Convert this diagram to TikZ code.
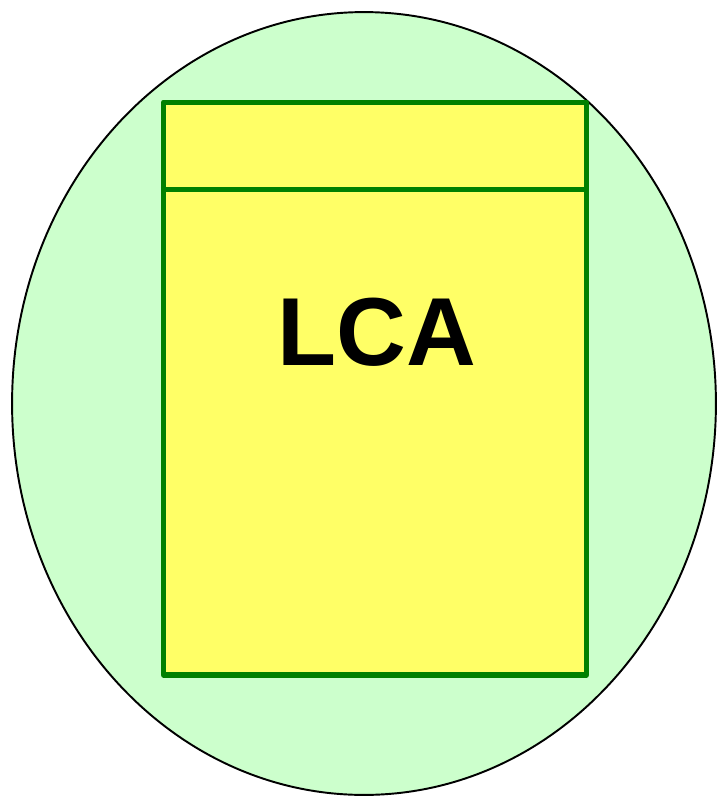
\documentclass[tikz,border=0pt]{standalone}
\usepackage{fontspec}
\setmainfont{Liberation Sans}
\usetikzlibrary{positioning, shapes.geometric}
\definecolor{cellgreen}{HTML}{CCFFCC}
\definecolor{boxyellow}{HTML}{FFFF66}
\definecolor{framegreen}{HTML}{008000}
\tikzset{
    cell/.style={ellipse, draw=black, line width=1.1pt, fill=cellgreen, inner sep=0pt},
    lcabox/.style={rectangle, draw=framegreen, line width=2.9pt, fill=boxyellow, inner sep=0pt, line join=round},
    divider/.style={draw=framegreen, line width=2.9pt},
    title/.style={font=\fontsize{55}{60}\selectfont\bfseries, inner sep=0pt}
}
\begin{document}
\begin{tikzpicture}[x=0.02cm, y=-0.02cm]
    \useasboundingbox (0,0) rectangle (717,796);
    % Cell
    \node [cell, minimum width=14.08cm, minimum height=15.66cm] (cell) at (364,403.5) {};
    % Box with header
    \node [lcabox, minimum width=8.46cm, minimum height=11.46cm] (box) at (375,388.5) {};
    \coordinate (headL) at ([yshift=-1.8cm]box.north west);
    \coordinate (headR) at ([yshift=-1.8cm]box.north east);
    \draw [divider] (headL) -- (headR);
    % Label
    \node [title, anchor=base] (lca) at (377,365) {LCA};
\end{tikzpicture}
\end{document}
